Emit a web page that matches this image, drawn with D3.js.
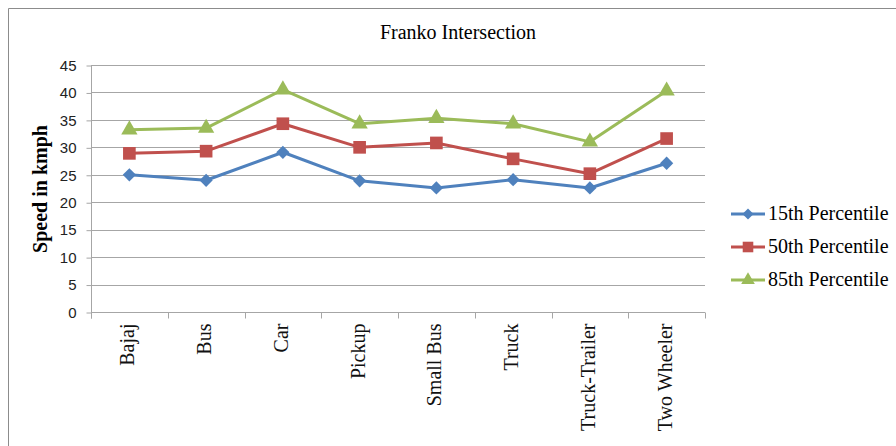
<!DOCTYPE html>
<html>
<head>
<meta charset="utf-8">
<script src="https://cdn.jsdelivr.net/npm/d3@7"></script>
<style>
  body { margin: 0; background: #fff; }
</style>
</head>
<body>
<svg width="896" height="446"></svg>
<script>
// data
var categories = ["Bajaj", "Bus", "Car", "Pickup", "Small Bus", "Truck", "Truck-Trailer", "Two Wheeler"];
var p15 = [25.0, 24.0, 29.1, 23.9, 22.6, 24.1, 22.6, 27.1];
var p50 = [28.9, 29.3, 34.3, 30.0, 30.8, 27.9, 25.2, 31.6];
var p85 = [33.2, 33.5, 40.5, 34.3, 35.3, 34.3, 31.0, 40.3];
var seriesNames = ["15th Percentile", "50th Percentile", "85th Percentile"];
var yTicks = [0, 5, 10, 15, 20, 25, 30, 35, 40, 45];

// diamond = square turned 45deg
var series = [
  { name: seriesNames[0], values: p15, color: "#4F81BD", symbol: d3.symbolSquare, size: 88, rot: 45 },
  { name: seriesNames[1], values: p50, color: "#C0504D", symbol: d3.symbolSquare, size: 160, rot: 0 },
  { name: seriesNames[2], values: p85, color: "#9BBB59", symbol: d3.symbolTriangle, size: 115, rot: 0 }
];

var svg = d3.select("svg");
var plotLeft = 91, plotRight = 705, plotTop = 65, plotBottom = 312;
var serif = "Liberation Serif, Times New Roman, serif";

// frame
svg.append("path")
  .attr("d", "M8.5,446 L8.5,8.5 L896,8.5")
  .style("fill", "none")
  .style("stroke", "#8c8c8c")
  .style("stroke-width", 1);

var x = d3.scaleBand().domain(categories).range([plotLeft, plotRight]);
var y = d3.scaleLinear().domain([0, 45]).range([plotBottom, plotTop]);

// gridlines
svg.append("g")
  .selectAll("line")
  .data(yTicks.filter(function (d) { return d > 0; }))
  .enter()
  .append("line")
  .attr("x1", plotLeft)
  .attr("x2", plotRight)
  .attr("y1", function (d) { return Math.round(y(d)) + 0.5; })
  .attr("y2", function (d) { return Math.round(y(d)) + 0.5; })
  .style("stroke", "#a6a6a6")
  .style("stroke-width", 1);

// y axis
var yAxis = svg.append("g")
  .attr("transform", "translate(" + (plotLeft + 0.5) + ",0.5)")
  .call(d3.axisLeft(y).tickValues(yTicks).tickSize(5).tickPadding(10));
yAxis.select(".domain").attr("d", "M0," + (plotTop - 0.5) + "V" + (plotBottom + 6)).style("stroke", "#a6a6a6");
yAxis.selectAll(".tick line").style("stroke", "#a6a6a6");
yAxis.selectAll("text")
  .style("font-family", "Liberation Sans, Arial, sans-serif")
  .style("font-size", "15px")
  .style("fill", "#222");

// x axis
var xAxis = svg.append("g")
  .attr("transform", "translate(0," + (plotBottom + 0.5) + ")");
xAxis.append("line")
  .attr("x1", plotLeft)
  .attr("x2", plotRight)
  .style("stroke", "#a6a6a6");
xAxis.selectAll("line.tk")
  .data(categories.concat(["end"]))
  .enter()
  .append("line")
  .attr("class", "tk")
  .attr("x1", function (d, i) { return Math.round(plotLeft + i * x.bandwidth()) + 0.5; })
  .attr("x2", function (d, i) { return Math.round(plotLeft + i * x.bandwidth()) + 0.5; })
  .attr("y1", 0)
  .attr("y2", 6)
  .style("stroke", "#a6a6a6");
xAxis.selectAll("text")
  .data(categories)
  .enter()
  .append("text")
  .attr("transform", function (d) {
    return "translate(" + (x(d) + x.bandwidth() / 2 + 5) + ",11) rotate(-90)";
  })
  .attr("text-anchor", "end")
  .style("font-family", serif)
  .style("font-size", "20px")
  .style("fill", "#111")
  .text(function (d) { return d; });

// title
svg.append("text")
  .attr("x", 458)
  .attr("y", 39)
  .attr("text-anchor", "middle")
  .style("font-family", serif)
  .style("font-size", "20px")
  .text("Franko Intersection");

// y label
svg.append("text")
  .attr("transform", "translate(47,189) rotate(-90)")
  .attr("text-anchor", "middle")
  .style("font-family", serif)
  .style("font-weight", "bold")
  .style("font-size", "20px")
  .text("Speed in kmph");

// lines and markers
var line = d3.line()
  .x(function (d, i) { return x(categories[i]) + x.bandwidth() / 2; })
  .y(function (d) { return y(d); });

series.forEach(function (s) {
  svg.append("path")
    .datum(s.values)
    .attr("d", line)
    .style("fill", "none")
    .style("stroke", s.color)
    .style("stroke-width", 3)
    .style("stroke-linejoin", "round");

  svg.append("g")
    .selectAll("path")
    .data(s.values)
    .enter()
    .append("path")
    .attr("d", d3.symbol().type(s.symbol).size(s.size))
    .attr("transform", function (d, i) {
      return "translate(" + (x(categories[i]) + x.bandwidth() / 2) + "," + y(d) + ") rotate(" + s.rot + ")";
    })
    .style("fill", s.color);
});

// legend
var legend = svg.append("g");
series.forEach(function (s, i) {
  var ly = 214 + i * 33;
  legend.append("line")
    .attr("x1", 731)
    .attr("x2", 765)
    .attr("y1", ly)
    .attr("y2", ly)
    .style("stroke", s.color)
    .style("stroke-width", 3);
  legend.append("path")
    .attr("d", d3.symbol().type(s.symbol).size(s.size * 0.7))
    .attr("transform", "translate(748," + ly + ") rotate(" + s.rot + ")")
    .style("fill", s.color);
  legend.append("text")
    .attr("x", 768)
    .attr("y", ly + 6)
    .style("font-family", serif)
    .style("font-size", "20px")
    .text(s.name);
});
</script>
</body>
</html>
